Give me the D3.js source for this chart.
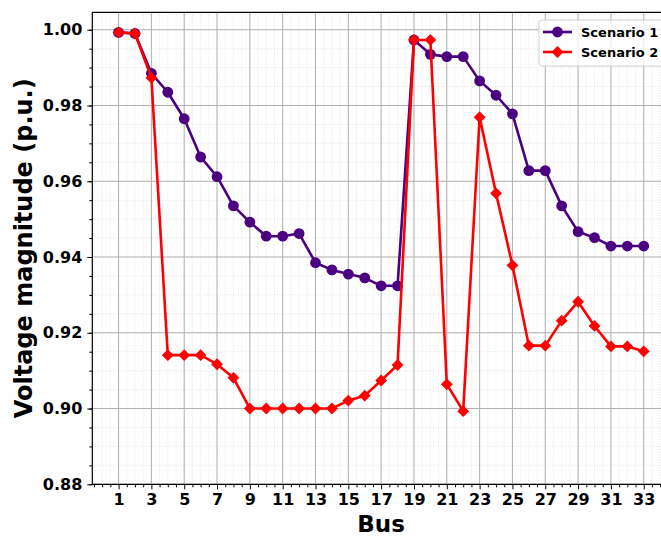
<!DOCTYPE html>
<html lang="en">
<head>
    <meta charset="UTF-8">
    <title>Bus voltage profile</title>
    <script src="https://d3js.org/d3.v7.min.js"></script>
    <style>
        body { margin: 0; background: white; }
        text { font-family: "DejaVu Sans", sans-serif; font-weight: bold; }
    </style>
</head>
<body>
    <div id="chart"></div>

    <script>
        // data --------------------------------------------------------------
        const buses = d3.range(1, 34);
        const scenario1 = [0.9993, 0.9990, 0.9885, 0.9835, 0.9765, 0.9664, 0.9612, 0.9535, 0.9492, 0.9455,
            0.9455, 0.9462, 0.9385, 0.9366, 0.9355, 0.9345, 0.9324, 0.9324, 0.9973, 0.9935,
            0.9929, 0.9929, 0.9865, 0.9827, 0.9778, 0.9628, 0.9628, 0.9535, 0.9467, 0.9451,
            0.9429, 0.9429, 0.9429];
        const scenario2 = [0.9993, 0.9990, 0.9873, 0.9141, 0.9141, 0.9141, 0.9117, 0.9081, 0.9000, 0.9000,
            0.9000, 0.9000, 0.9000, 0.9000, 0.9021, 0.9034, 0.9074, 0.9115, 0.9973, 0.9973,
            0.9064, 0.8993, 0.9769, 0.9568, 0.9378, 0.9166, 0.9166, 0.9232, 0.9282, 0.9218,
            0.9164, 0.9164, 0.9151];
        const xTicks = d3.range(1, 34, 2);
        const yTicks = [0.88, 0.90, 0.92, 0.94, 0.96, 0.98, 1.00];
        const seriesNames = ["Scenario 1", "Scenario 2"];

        // svg setup -----------------------------------------------------------
        const width = 661, height = 537;
        const svg = d3.select("#chart").append("svg")
            .attr("width", width)
            .attr("height", height);

        const corner = {left: 92.3, top: 12.3, bottom: 484.3, right: 670};

        const xScale = d3.scaleLinear().domain([-0.6, 34.6]).range([corner.left, corner.right]);
        const yScale = d3.scaleLinear().domain([0.88, 1.0046]).range([corner.bottom, corner.top]);

        const xMinor = d3.range(-0.5, 35, 0.5);
        const yMinor = d3.range(0.88, 1.0046, 0.005).map(v => +v.toFixed(3));

        // grid lines ----------------------------------------------------------
        const grid = svg.append("g");
        xMinor.forEach(v => {
            grid.append("line")
                .attr("x1", xScale(v)).attr("x2", xScale(v))
                .attr("y1", corner.top).attr("y2", corner.bottom)
                .attr("stroke", "#d4d4d4").attr("stroke-width", 0.6)
                .attr("stroke-dasharray", "1,1.6");
        });
        yMinor.forEach(v => {
            grid.append("line")
                .attr("x1", corner.left).attr("x2", corner.right)
                .attr("y1", yScale(v)).attr("y2", yScale(v))
                .attr("stroke", "#d4d4d4").attr("stroke-width", 0.6)
                .attr("stroke-dasharray", "1,1.6");
        });
        xTicks.forEach(v => {
            grid.append("line")
                .attr("x1", xScale(v)).attr("x2", xScale(v))
                .attr("y1", corner.top).attr("y2", corner.bottom)
                .attr("stroke", "#b0b0b0").attr("stroke-width", 1);
        });
        yTicks.forEach(v => {
            grid.append("line")
                .attr("x1", corner.left).attr("x2", corner.right)
                .attr("y1", yScale(v)).attr("y2", yScale(v))
                .attr("stroke", "#b0b0b0").attr("stroke-width", 1);
        });

        // axes ----------------------------------------------------------------
        const xAxis = svg.append("g")
            .attr("transform", `translate(0,${corner.bottom})`)
            .call(d3.axisBottom(xScale).tickValues(xTicks).tickFormat(d3.format("d"))
                .tickSize(5).tickPadding(4).tickSizeOuter(0));
        xAxis.select(".domain").remove();
        xAxis.selectAll("text").attr("font-size", 16).attr("font-family", "DejaVu Sans").attr("font-weight", "bold");
        xAxis.selectAll("line").attr("stroke-width", 1);

        const xMinorAxis = svg.append("g")
            .attr("transform", `translate(0,${corner.bottom})`)
            .call(d3.axisBottom(xScale).tickValues(xMinor.filter(v => v % 2 !== 1)).tickFormat("")
                .tickSize(3).tickSizeOuter(0));
        xMinorAxis.select(".domain").remove();

        const yAxis = svg.append("g")
            .attr("transform", `translate(${corner.left},0)`)
            .call(d3.axisLeft(yScale).tickValues(yTicks).tickFormat(d3.format(".2f"))
                .tickSize(5).tickPadding(5).tickSizeOuter(0));
        yAxis.select(".domain").remove();
        yAxis.selectAll("text").attr("font-size", 16).attr("font-family", "DejaVu Sans").attr("font-weight", "bold");

        const yMinorAxis = svg.append("g")
            .attr("transform", `translate(${corner.left},0)`)
            .call(d3.axisLeft(yScale).tickValues(yMinor).tickFormat("")
                .tickSize(3).tickSizeOuter(0));
        yMinorAxis.select(".domain").remove();

        // spines
        svg.append("line").attr("x1", corner.left).attr("x2", corner.left)
            .attr("y1", corner.top).attr("y2", corner.bottom).attr("stroke", "black").attr("stroke-width", 1.2);
        svg.append("line").attr("x1", corner.left).attr("x2", corner.right)
            .attr("y1", corner.bottom).attr("y2", corner.bottom).attr("stroke", "black").attr("stroke-width", 1.2);
        svg.append("line").attr("x1", corner.left).attr("x2", corner.right)
            .attr("y1", corner.top).attr("y2", corner.top).attr("stroke", "black").attr("stroke-width", 1.2);

        // labels
        svg.append("text")
            .attr("x", xScale(17)).attr("y", 532)
            .attr("text-anchor", "middle")
            .attr("font-size", 23)
            .text("Bus");
        svg.append("text")
            .attr("transform", `translate(32,${(corner.top + corner.bottom) / 2}) rotate(-90)`)
            .attr("text-anchor", "middle")
            .attr("font-size", 24)
            .text("Voltage magnitude (p.u.)");

        // series --------------------------------------------------------------
        const colors = ["#4B0082", "#FF0000"];
        const line = d3.line().x((d, i) => xScale(buses[i])).y(d => yScale(d));
        const circleSym = d3.symbol().type(d3.symbolCircle).size(Math.PI * 5.4 * 5.4);
        const diamondSym = d3.symbol().type(d3.symbolSquare).size(70);

        function drawSeries(values, color, marker) {
            svg.append("path")
                .datum(values)
                .attr("d", line)
                .attr("fill", "none")
                .attr("stroke", color)
                .attr("stroke-width", 2.6)
                .attr("stroke-linejoin", "round");
            values.forEach((v, i) => {
                svg.append("path")
                    .attr("d", marker)
                    .attr("transform", `translate(${xScale(buses[i])},${yScale(v)})` + (marker === diamondSym ? " rotate(45)" : ""))
                    .attr("fill", color);
            });
        }
        drawSeries(scenario1, colors[0], circleSym);
        drawSeries(scenario2, colors[1], diamondSym);

        // legend --------------------------------------------------------------
        const legend = svg.append("g");
        legend.append("rect")
            .attr("x", 539).attr("y", 20).attr("width", 140).attr("height", 46)
            .attr("rx", 3)
            .attr("fill", "white").attr("fill-opacity", 0.8)
            .attr("stroke", "#d0d0d0").attr("stroke-width", 1);
        seriesNames.forEach((name, i) => {
            const yy = 32 + i * 20;
            legend.append("line")
                .attr("x1", 543).attr("x2", 572).attr("y1", yy).attr("y2", yy)
                .attr("stroke", colors[i]).attr("stroke-width", 2.6);
            legend.append("path")
                .attr("d", i === 0 ? circleSym : diamondSym)
                .attr("transform", `translate(557.5,${yy})` + (i === 1 ? " rotate(45)" : ""))
                .attr("fill", colors[i]);
            legend.append("text")
                .attr("x", 581).attr("y", yy + 4.6)
                .attr("font-size", 13)
                .text(name);
        });
    </script>
</body>
</html>
